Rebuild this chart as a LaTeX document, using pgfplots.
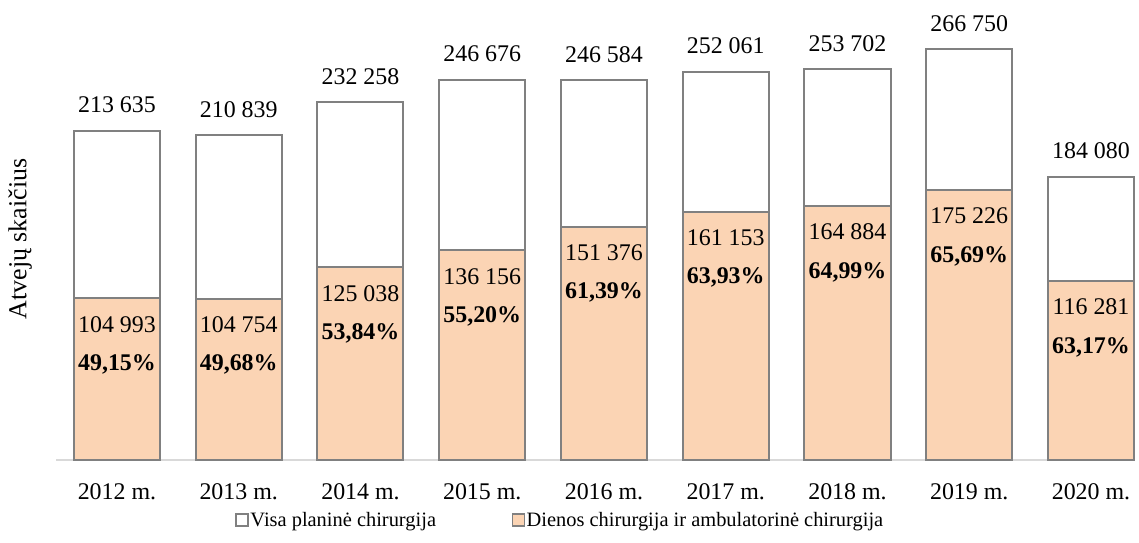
\documentclass[border=0pt]{standalone}
\usepackage{pgfplots}
\pgfplotsset{compat=1.18}
\usepackage{fontspec}
\setmainfont{Liberation Serif}
\definecolor{barorange}{HTML}{FBD4B4}
\definecolor{bordergray}{HTML}{808080}
\definecolor{axisgray}{HTML}{D9D9D9}
\newcommand\datafont{\fontsize{24}{28}\selectfont}
\newcommand\tickfont{\fontsize{24}{28}\selectfont}
\newcommand\legfont{\fontsize{20.5}{24}\selectfont}
\newcommand\ylabfont{\fontsize{26}{30}\selectfont}
\begin{document}
\begin{tikzpicture}[x=1bp,y=1bp]
\useasboundingbox (0,0) rectangle (1139,543);
\begin{axis}[
  at={(56.1bp,83bp)}, anchor=south west,
  scale only axis, width=1077.5bp, height=440bp,
  xmin=-0.5, xmax=8.35, ymin=0, ymax=285714,
  axis x line*=bottom, axis y line=none,
  x axis line style={axisgray, line width=1.5bp, -},
  xtick={0,...,8},
  xticklabels={2012 m.,2013 m.,2014 m.,2015 m.,2016 m.,2017 m.,2018 m.,2019 m.,2020 m.},
  major tick length=0pt,
  xticklabel style={font=\tickfont, anchor=center, yshift=-32bp},
  ytick=\empty,
  clip=false,
  legend columns=2,
  legend style={at={(0.4677,-0.136)}, anchor=center, draw=none, font=\legfont,
    /tikz/every even column/.append style={column sep=74bp},
    nodes={inner xsep=1.5bp, inner ysep=0pt}, cells={anchor=west}},
  legend image code/.code={\draw[#1, line width=1.6bp] (0bp,-6bp) rectangle (12bp,6bp);},
]
\addplot[ybar, bar width=86bp, bar shift=0pt, fill=white, draw=bordergray, line width=2bp,
  nodes near coords, point meta=explicit symbolic,
  every node near coord/.style={font=\datafont, anchor=center, yshift=26bp, text=black}]
  coordinates {(0,213635)[213 635] (1,210839)[210 839] (2,232258)[232 258] (3,246676)[246 676]
  (4,246584)[246 584] (5,252061)[252 061] (6,253702)[253 702] (7,266750)[266 750] (8,184080)[184 080]};
\addlegendentry{Visa planinė chirurgija}
\addplot[ybar, bar width=86bp, bar shift=0pt, fill=barorange, draw=bordergray, line width=2bp,
  nodes near coords, point meta=explicit symbolic,
  every node near coord/.style={font=\datafont, anchor=center, yshift=-26bp, text=black}]
  coordinates {(0,104993)[104 993] (1,104754)[104 754] (2,125038)[125 038] (3,136156)[136 156]
  (4,151376)[151 376] (5,161153)[161 153] (6,164884)[164 884] (7,175226)[175 226] (8,116281)[116 281]};
\addlegendentry{Dienos chirurgija ir ambulatorinė chirurgija}
\addplot[ybar, bar width=86bp, bar shift=0pt, draw=none, fill=none, forget plot,
  nodes near coords, point meta=explicit symbolic,
  every node near coord/.style={font=\datafont\bfseries, anchor=center, yshift=-66bp, text=black}]
  coordinates {(0,104993)[49,15\%] (1,104754)[49,68\%] (2,125038)[53,84\%] (3,136156)[55,20\%]
  (4,151376)[61,39\%] (5,161153)[63,93\%] (6,164884)[64,99\%] (7,175226)[65,69\%] (8,116281)[63,17\%]};
\end{axis}
\node[rotate=90, font=\ylabfont] at (20,304) {Atvejų skaičius};
\end{tikzpicture}
\end{document}
